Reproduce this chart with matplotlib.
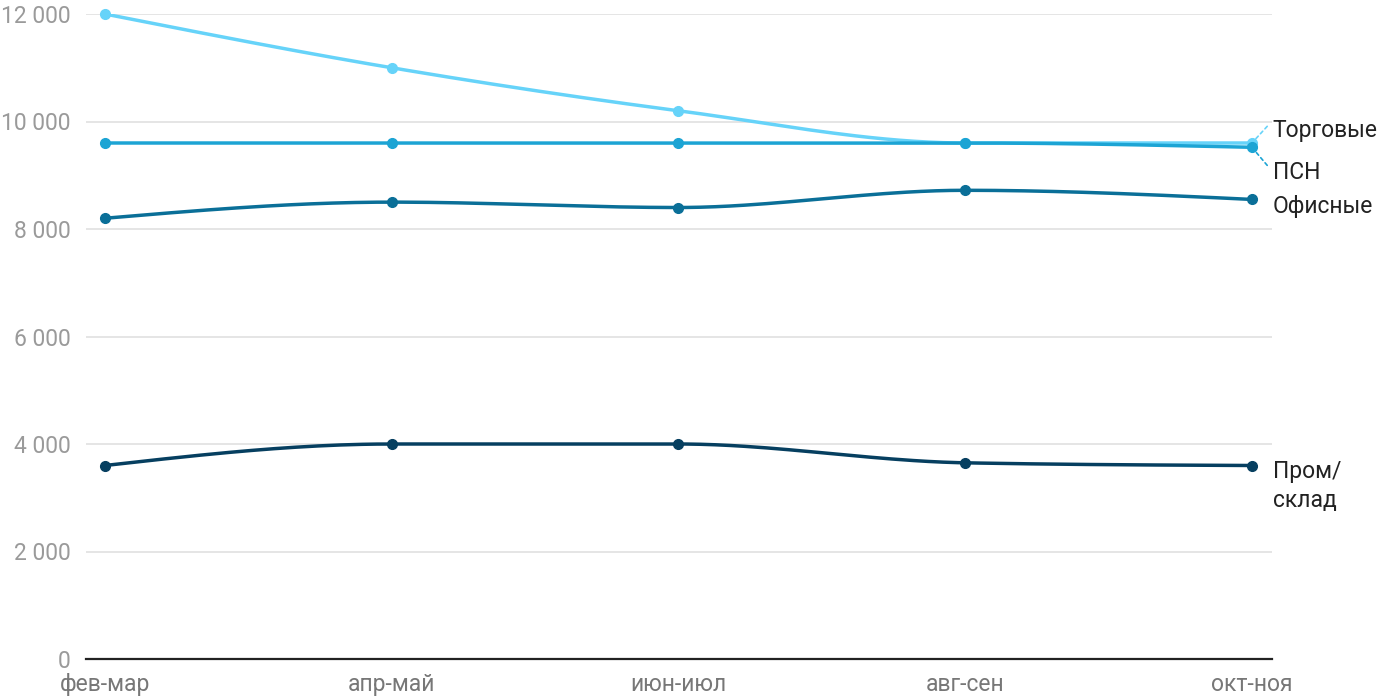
import numpy as np
import matplotlib
matplotlib.use("Agg")
import matplotlib.pyplot as plt

plt.rcParams['font.family'] = ['Roboto', 'DejaVu Sans']

periods = ["фев-мар", "апр-май", "июн-июл", "авг-сен", "окт-ноя"]
series_names = ["Торговые", "ПСН", "Офисные", "Пром/\nсклад"]
torg = [12000, 11000, 10200, 9600, 9600]
psn = [9600, 9600, 9600, 9600, 9520]
office = [8200, 8500, 8400, 8720, 8550]
prom = [3600, 4000, 4000, 3650, 3600]
y_ticks = [0, 2000, 4000, 6000, 8000, 10000, 12000]

colors = ["#66d3f9", "#1ca4d4", "#0a6f98", "#063f60"]


def monotone_x(xs, ys, n=40):
    # d3 curveMonotoneX style cubic hermite
    xs = np.asarray(xs, float)
    ys = np.asarray(ys, float)
    k = len(xs)
    h = np.diff(xs)
    s = np.diff(ys) / h
    t = np.zeros(k)
    for i in range(1, k - 1):
        h0, h1 = h[i - 1], h[i]
        s0, s1 = s[i - 1], s[i]
        p = (s0 * h1 + s1 * h0) / (h0 + h1)
        t[i] = (np.sign(s0) + np.sign(s1)) * min(abs(s0), abs(s1), 0.5 * abs(p))
    t[0] = (3 * s[0] - t[1]) / 2
    t[-1] = (3 * s[-1] - t[-2]) / 2
    out_x, out_y = [], []
    for i in range(k - 1):
        u = np.linspace(0, 1, n)
        hh = h[i]
        h00 = 2 * u**3 - 3 * u**2 + 1
        h10 = u**3 - 2 * u**2 + u
        h01 = -2 * u**3 + 3 * u**2
        h11 = u**3 - u**2
        yy = h00 * ys[i] + h10 * hh * t[i] + h01 * ys[i + 1] + h11 * hh * t[i + 1]
        out_x.extend(xs[i] + u * hh)
        out_y.extend(yy)
    return np.array(out_x), np.array(out_y)


fig = plt.figure(figsize=(14, 7), dpi=100)
ax = fig.add_axes([86 / 1400, 41 / 700, (1272 - 86) / 1400, (659 - 14) / 700])

x = np.arange(len(periods))
all_series = [torg, psn, office, prom]
for i, (vals, c) in enumerate(zip(all_series, colors)):
    cx, cy = monotone_x(x, vals)
    ax.plot(cx, cy, color=c, lw=2.5, zorder=3 + i, solid_capstyle='round')
    ax.plot(x, vals, 'o', color=c, ms=7, zorder=3 + i, clip_on=False)

ax.set_xlim(-0.066, 4.07)
ax.set_ylim(0, 12000)
ax.set_yticks(y_ticks)
ax.set_yticklabels([f"{v:,}".replace(",", " ") for v in y_ticks])
ax.set_xticks(x)
ax.set_xticklabels(periods)
ax.grid(axis='y', color='#e3e3e3', lw=1.3)
ax.set_axisbelow(True)
for sp in ['top', 'right', 'left']:
    ax.spines[sp].set_visible(False)
ax.spines['bottom'].set_color('#222222')
ax.spines['bottom'].set_linewidth(1.6)
ax.tick_params(axis='y', length=0, pad=11, labelsize=16.5, labelcolor='#9a9a9a')
ax.tick_params(axis='x', length=0, pad=10, labelsize=16.5, labelcolor='#777777')

# right-side labels
last = x[-1]
label_offsets = [(15, 9), (15, -18), (15, -5), (15, -15)]
for i, (name, vals, off) in enumerate(zip(series_names, all_series, label_offsets)):
    ax.annotate(name, xy=(last, vals[-1]), xytext=off, textcoords='offset points',
                fontsize=16.5, color='#222222', va='center', ha='left',
                linespacing=1.35, annotation_clip=False)

ax.annotate("", xy=(last, torg[-1]), xytext=(11, 12), textcoords='offset points',
            arrowprops=dict(arrowstyle='-', color=colors[0], ls=(0, (2, 2)), lw=1.2,
                            shrinkA=0, shrinkB=3), annotation_clip=False)
ax.annotate("", xy=(last, psn[-1]), xytext=(11, -13), textcoords='offset points',
            arrowprops=dict(arrowstyle='-', color=colors[1], ls=(0, (2, 2)), lw=1.2,
                            shrinkA=0, shrinkB=3), annotation_clip=False)

fig.savefig("out.png", dpi=100)
